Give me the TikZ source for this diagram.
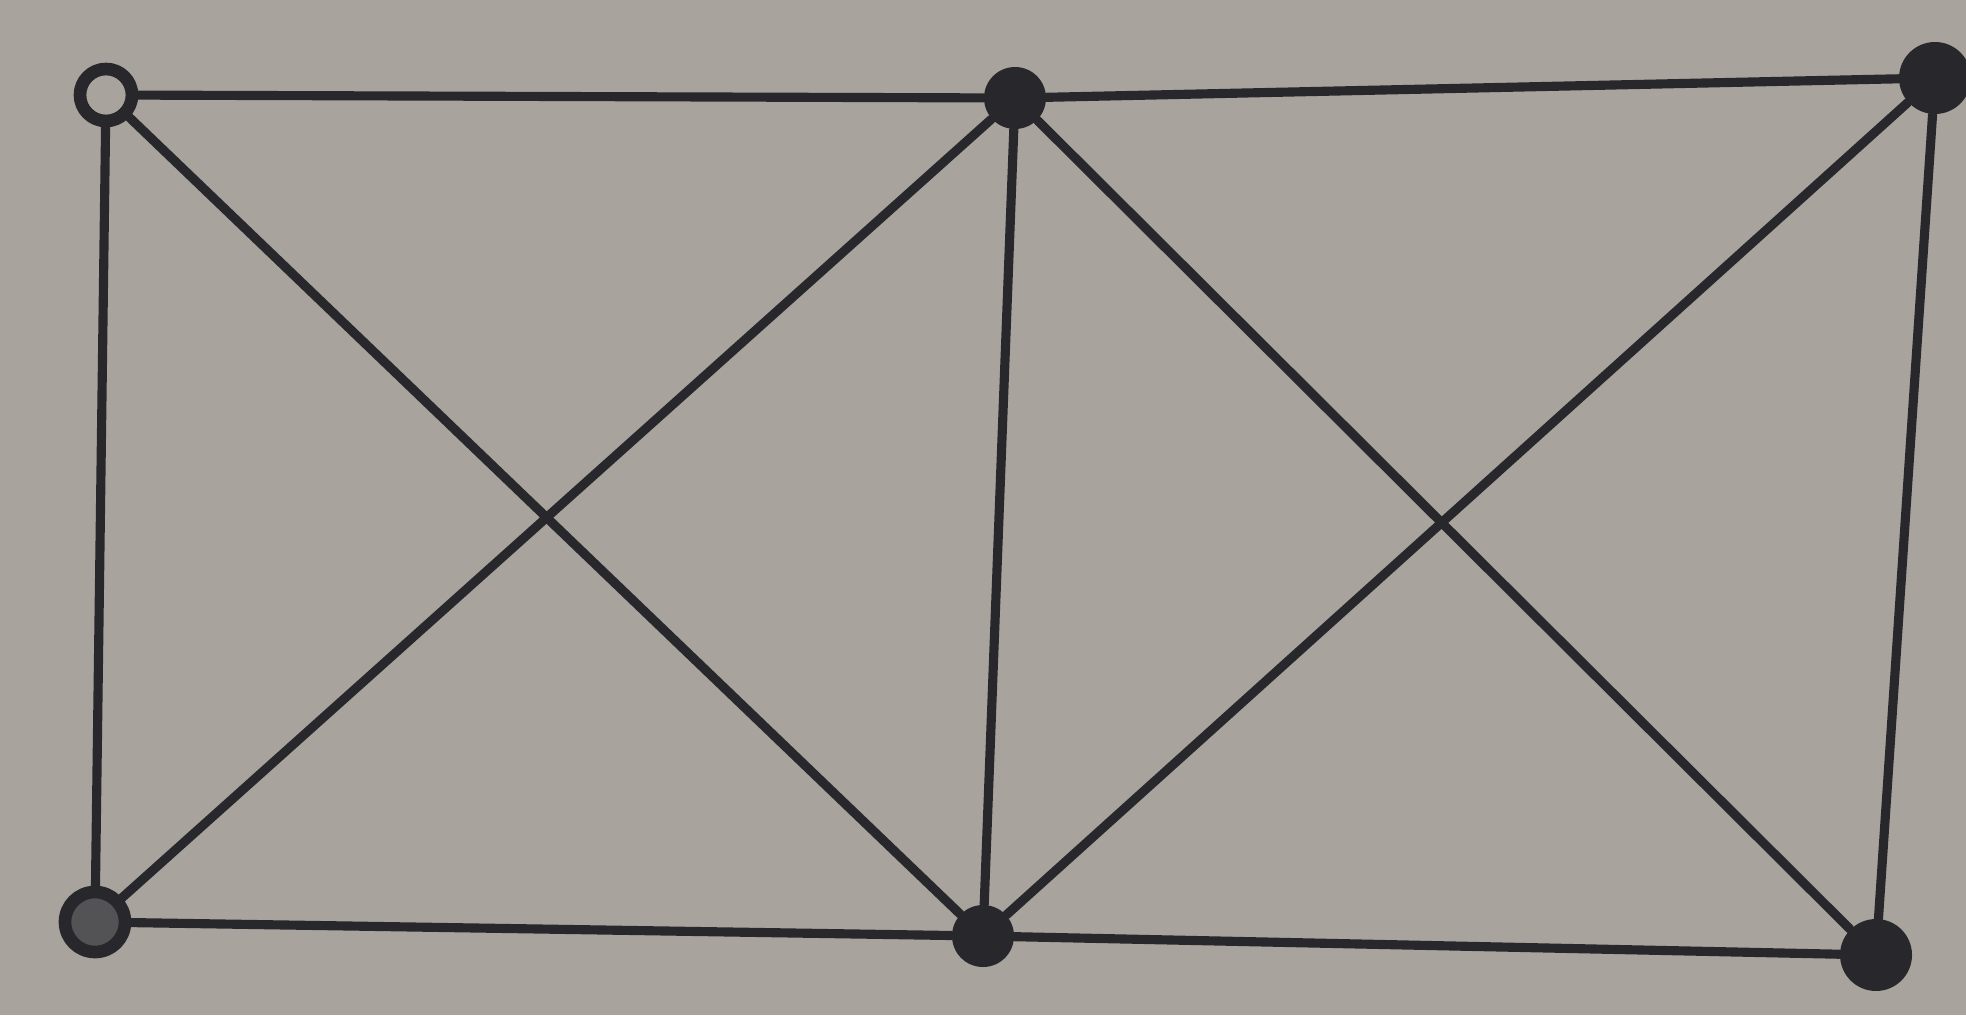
\documentclass[tikz,border=0pt]{standalone}
\usepackage{xcolor}
\usepackage{tikz}
\usetikzlibrary{positioning}
\definecolor{paper}{RGB}{168,163,156}
\definecolor{ink}{RGB}{40,40,44}

\begin{document}
\begin{tikzpicture}[
  vtx/.style={circle,fill=ink,inner sep=0pt,minimum size=0.62cm},
  ring/.style={circle,draw=ink,line width=3.6pt,inner sep=0pt,minimum size=0.52cm},
  edge/.style={ink,line width=2.6pt,line cap=round}]
  \fill[paper] (0,0) rectangle (19.66,10.15);
  \useasboundingbox (0,0) rectangle (19.66,10.15);
  \node[ring] (a) at (1.06,9.20) {};
  \node[vtx] (b) at (10.15,9.17) {};
  \node[vtx,minimum size=0.72cm] (c) at (19.35,9.37) {};
  \node[ring,fill=ink!80,minimum size=0.6cm] (d) at (0.95,0.93) {};
  \node[vtx] (e) at (9.83,0.79) {};
  \node[vtx,minimum size=0.72cm] (f) at (18.76,0.60) {};
  \draw[edge] (a)--(b) (b)--(c);
  \draw[edge] (d)--(e) (e)--(f);
  \draw[edge] (a)--(d) (b)--(e) (c)--(f);
  \draw[edge] (a)--(e) (d)--(b);
  \draw[edge] (b)--(f) (e)--(c);
\end{tikzpicture}
\end{document}
